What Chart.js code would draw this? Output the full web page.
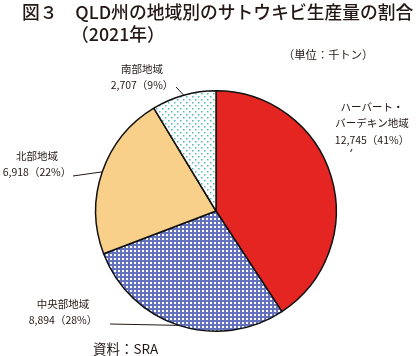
<!DOCTYPE html>
<html><head><meta charset="utf-8">
<script src="https://cdn.jsdelivr.net/npm/chart.js@4/dist/chart.umd.min.js"></script>
<style>
html,body{margin:0;padding:0;background:#fff;}
#wrap{position:relative;width:420px;height:356px;overflow:hidden;font-family:"Noto Sans CJK JP","Noto Sans",sans-serif;color:#231815;}
canvas{position:absolute;left:0;top:0;}
.t{position:absolute;white-space:nowrap;line-height:1;}
</style></head>
<body><div id="wrap">
<canvas id="c" width="420" height="356"></canvas>
<div class="t" style="left:22px;top:3px;font-size:17.8px;font-weight:500;">図３　QLD州の地域別のサトウキビ生産量の割合</div>
<div class="t" style="left:71px;top:25px;font-size:17.8px;font-weight:500;">（2021年）</div>
<div class="t" style="left:283px;top:49px;font-size:11.3px;">（単位：千トン）</div>
<div class="t" style="left:93px;top:342px;font-size:13.5px;">資料：SRA</div>
</div>
<script>
// data (thousand tonnes)
const regions = ["ハーバート・バーデキン地域", "中央部地域", "北部地域", "南部地域"];
const labelLines = [["ハーバート・", "バーデキン地域"], ["中央部地域"], ["北部地域"], ["南部地域"]];
const production = [12745, 8894, 6918, 2707];

function gridPattern(){
  const c=document.createElement('canvas');c.width=4;c.height=4;
  const x=c.getContext('2d');x.fillStyle='#fff';x.fillRect(0,0,4,4);
  x.fillStyle='#6472bd';x.fillRect(0,0,4,2);x.fillRect(0,0,2,4);
  return x.createPattern(c,'repeat');
}
function dotPattern(){
  const c=document.createElement('canvas');c.width=6;c.height=6;
  const x=c.getContext('2d');x.fillStyle='#fff';x.fillRect(0,0,6,6);
  x.fillStyle='#4fb9b9';x.fillRect(0,0,1.5,1.5);x.fillRect(3,3,1.5,1.5);
  return x.createPattern(c,'repeat');
}
const ctx0=document.getElementById('c').getContext('2d');
const fills=['#e52521', gridPattern(), '#f8d08a', dotPattern()];

// label placement (text centre x, first line centre y, leader start, leader mode)
const labelCfg = [
  {x:372, y:107, lx:352, ly:149, stub:true},
  {x:63,  y:304, lx:110, ly:324},
  {x:37,  y:156, lx:73,  ly:176},
  {x:142, y:69,  lx:176, ly:87}
];

const labelPlugin = {
  id:'labels',
  afterDatasetsDraw(chart){
    const ctx=chart.ctx;
    const meta=chart.getDatasetMeta(0);
    const data=chart.data.datasets[0].data;
    const total=data.reduce((a,b)=>a+b,0);
    ctx.save();
    ctx.fillStyle='#231815';
    ctx.strokeStyle='#231815';
    ctx.lineWidth=1;
    ctx.textAlign='center';ctx.textBaseline='middle';
    ctx.font='10.5px "Noto Sans CJK JP"';
    meta.data.forEach((arc,i)=>{
      const cfg=labelCfg[i];
      const lines=labelLines[i].slice();
      lines.push(data[i].toLocaleString('en-US')+'（'+Math.round(data[i]/total*100)+'%）');
      lines.forEach((s,k)=>ctx.fillText(s,cfg.x,cfg.y+k*16.5));
      ctx.beginPath();ctx.moveTo(cfg.lx,cfg.ly);
      if(cfg.stub){
        ctx.lineTo(cfg.lx-1.5,cfg.ly+3);
      } else {
        const p=arc.getProps(['x','y','startAngle','endAngle','outerRadius']);
        const a=(p.startAngle+p.endAngle)/2;
        ctx.lineTo(p.x+Math.cos(a)*p.outerRadius, p.y+Math.sin(a)*p.outerRadius);
      }
      ctx.stroke();
    });
    ctx.restore();
  }
};

new Chart(ctx0,{
  type:'pie',
  data:{labels:regions,datasets:[{data:production,backgroundColor:fills,borderColor:'#111',borderWidth:1.5}]},
  options:{
    responsive:false,animation:false,
    layout:{padding:{left:95,right:83,top:90,bottom:24}},
    plugins:{legend:{display:false},tooltip:{enabled:false}}
  },
  plugins:[labelPlugin]
});
</script>
</body></html>
